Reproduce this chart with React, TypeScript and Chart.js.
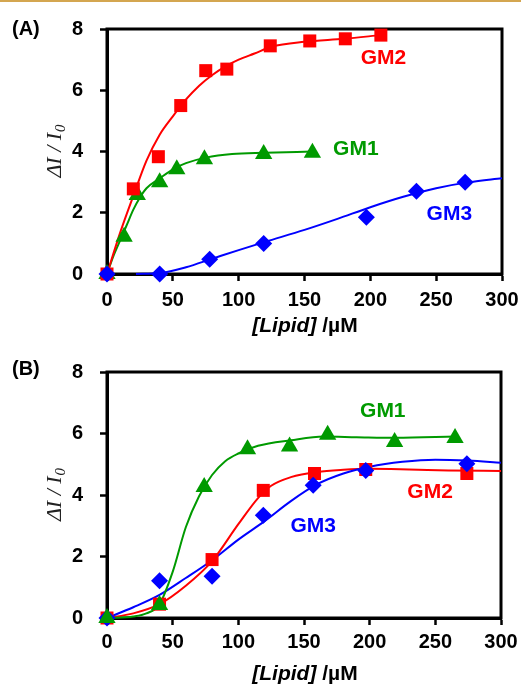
import React, { useEffect, useRef } from 'react';
import { Chart, registerables } from 'chart.js';

Chart.register(...registerables);

// ---------- data ----------
const xTickStep = 50;
const xMax = 300;
const yMax = 8;
const yTickStep = 2;

// Panel A – measured points
const aGM2X = [0, 20, 39, 56, 75, 91, 124, 154, 181, 208];
const aGM2Y = [0, 2.78, 3.83, 5.5, 6.64, 6.69, 7.45, 7.61, 7.68, 7.8];
const aGM1X = [0, 13, 23, 40, 53, 74, 119, 156];
const aGM1Y = [0, 1.22, 2.58, 3.0, 3.42, 3.75, 3.92, 3.96];
const aGM3X = [0, 40, 78, 119, 197, 235, 272];
const aGM3Y = [0, 0, 0.48, 1.0, 1.85, 2.7, 3.0];

// Panel A – fitted curves
const aFitGM2X = [0, 10, 20, 30, 40, 50, 60, 70, 80, 90, 100, 112, 125, 150, 180, 208];
const aFitGM2Y = [0, 1.35, 2.55, 3.7, 4.55, 5.15, 5.7, 6.15, 6.5, 6.78, 7.0, 7.2, 7.42, 7.58, 7.68, 7.8];
const aFitGM1X = [0, 5, 10, 15, 20, 25, 30, 40, 50, 60, 75, 95, 120, 156];
const aFitGM1Y = [0, 0.6, 1.1, 1.6, 2.1, 2.5, 2.8, 3.12, 3.42, 3.62, 3.8, 3.92, 3.96, 4.0];
const aFitGM3X = [22, 40, 60, 80, 100, 120, 150, 175, 200, 225, 250, 275, 300];
const aFitGM3Y = [0, 0.03, 0.22, 0.5, 0.78, 1.05, 1.44, 1.8, 2.18, 2.52, 2.8, 3.0, 3.13];

// Panel B – measured points
const bGM1X = [0, 40, 74, 107, 139, 168, 219, 265];
const bGM1Y = [0, 0.42, 4.26, 5.49, 5.58, 5.96, 5.72, 5.85];
const bGM2X = [0, 40, 80, 119, 158, 197, 274];
const bGM2Y = [0, 0.45, 1.9, 4.15, 4.7, 4.83, 4.7];
const bGM3X = [0, 40, 80, 119, 157, 197, 274];
const bGM3Y = [0, 1.21, 1.36, 3.34, 4.32, 4.8, 5.02];

// Panel B – fitted curves
const bFitGM1X = [0, 20, 30, 40, 50, 60, 70, 80, 90, 100, 115, 140, 165, 190, 220, 265];
const bFitGM1Y = [0, 0.05, 0.15, 0.45, 1.5, 2.95, 3.95, 4.65, 5.1, 5.35, 5.6, 5.78, 5.9, 5.88, 5.86, 5.9];
const bFitGM2X = [0, 20, 40, 60, 80, 100, 115, 125, 140, 160, 180, 200, 230, 260, 300];
const bFitGM2Y = [0, 0.15, 0.45, 1.05, 1.85, 3.05, 3.9, 4.3, 4.58, 4.75, 4.82, 4.85, 4.83, 4.8, 4.78];
const bFitGM3X = [0, 20, 40, 60, 80, 100, 120, 140, 160, 180, 200, 225, 250, 275, 300];
const bFitGM3Y = [0, 0.35, 0.75, 1.3, 1.88, 2.55, 3.15, 3.8, 4.35, 4.7, 4.92, 5.08, 5.15, 5.12, 5.05];

// Text
const seriesNames = ['GM1', 'GM2', 'GM3'];
const xTitleItalic = '[Lipid]';
const xTitleUnit = ' /\u00B5M';
const yTitleMain = '\u0394I / I';
const yTitleSub = '0';

// Label anchor positions in data units
const aLabelX = [189, 210, 260];
const aLabelY = [4.08, 7.05, 1.96];
const bLabelX = [210, 246, 157];
const bLabelY = [6.72, 4.08, 3.0];

const RED = '#FF0000';
const GREEN = '#009A00';
const BLUE = '#0000FF';
const COLORS = [GREEN, RED, BLUE];
const SANS = '"Liberation Sans", Arial, sans-serif';
const SERIF = '"Liberation Serif", "Times New Roman", serif';

const pts = (xs: number[], ys: number[]) => xs.map((x, i) => ({ x, y: ys[i] }));

const decorPlugin = {
  id: 'decor',
  beforeDatasetsDraw(chart: any) {
    const { ctx, chartArea: a } = chart;
    ctx.save();
    ctx.strokeStyle = '#000';
    ctx.lineWidth = 3;
    ctx.strokeRect(a.left, a.top, a.right - a.left, a.bottom - a.top);
    ctx.restore();
  },
  afterDraw(chart: any, _args: any, opts: any) {
    const { ctx, chartArea: a, scales } = chart;
    ctx.save();
    // panel letter
    ctx.fillStyle = '#000';
    ctx.font = `bold 20px ${SANS}`;
    ctx.textAlign = 'left';
    ctx.textBaseline = 'alphabetic';
    ctx.fillText(opts.panel, 12, opts.panelBaseline);

    // y title (rotated)
    ctx.save();
    const cy = (a.top + a.bottom) / 2;
    ctx.translate(opts.yTitleX, cy);
    ctx.rotate(-Math.PI / 2);
    ctx.fillStyle = '#222';
    const fMain = `italic 22px ${SERIF}`;
    const fSub = `italic 15px ${SERIF}`;
    ctx.font = fMain;
    const wm = ctx.measureText(yTitleMain).width;
    ctx.font = fSub;
    const ws = ctx.measureText(yTitleSub).width;
    const start = -(wm + ws) / 2;
    ctx.textBaseline = 'middle';
    ctx.font = fMain;
    ctx.fillText(yTitleMain, start, 0);
    ctx.font = fSub;
    ctx.fillText(yTitleSub, start + wm + 1, 6);
    ctx.restore();

    // x title
    ctx.fillStyle = '#000';
    const f1 = `italic bold 21px ${SANS}`;
    const f2 = `bold 21px ${SANS}`;
    ctx.font = f1;
    const w1 = ctx.measureText(xTitleItalic).width;
    ctx.font = f2;
    const w2 = ctx.measureText(xTitleUnit).width;
    const x0 = opts.xTitleX - (w1 + w2) / 2;
    ctx.textAlign = 'left';
    ctx.textBaseline = 'alphabetic';
    ctx.font = f1;
    ctx.fillText(xTitleItalic, x0, opts.xTitleBaseline);
    ctx.font = f2;
    ctx.fillText(xTitleUnit, x0 + w1, opts.xTitleBaseline);

    // series labels
    ctx.font = `bold 21px ${SANS}`;
    ctx.textAlign = 'center';
    ctx.textBaseline = 'middle';
    opts.labels.forEach((l: any) => {
      ctx.fillStyle = l.color;
      ctx.fillText(l.text, scales.x.getPixelForValue(l.x), scales.y.getPixelForValue(l.y));
    });
    ctx.restore();
  },
};

interface PanelCfg {
  height: number;
  top: number;
  padTop: number;
  padRight: number;
  xAxisH: number;
  xTickPad: number;
  panel: string;
  panelBaseline: number;
  xTitleBaseline: number;
  datasets: any[];
  labelX: number[];
  labelY: number[];
}

const markerStyles = [
  { pointStyle: 'triangle', pointRadius: 10 },
  { pointStyle: 'rect', pointRadius: 9.2 },
  { pointStyle: 'rectRot', pointRadius: 8.5 },
];

function markerDs(idx: number, xs: number[], ys: number[], order: number) {
  return {
    label: seriesNames[idx],
    data: pts(xs, ys),
    showLine: false,
    pointBackgroundColor: COLORS[idx],
    pointBorderWidth: 0,
    pointBorderColor: COLORS[idx],
    ...markerStyles[idx],
    order,
    clip: false,
  };
}

function fitDs(idx: number, xs: number[], ys: number[], order: number) {
  return {
    label: seriesNames[idx] + ' fit',
    data: pts(xs, ys),
    showLine: true,
    borderColor: COLORS[idx],
    borderWidth: 2,
    pointRadius: 0,
    tension: 0.4,
    cubicInterpolationMode: 'monotone',
    order,
    clip: false,
  };
}

const panelA: PanelCfg = {
  height: 340,
  top: 0,
  padTop: 29,
  padRight: 19,
  xAxisH: 66,
  xTickPad: 7,
  panel: '(A)',
  panelBaseline: 35,
  xTitleBaseline: 332,
  labelX: aLabelX,
  labelY: aLabelY,
  datasets: [
    markerDs(2, aGM3X, aGM3Y, 1),
    markerDs(1, aGM2X, aGM2Y, 2),
    markerDs(0, aGM1X, aGM1Y, 3),
    fitDs(2, aFitGM3X, aFitGM3Y, 10),
    fitDs(1, aFitGM2X, aFitGM2Y, 11),
    fitDs(0, aFitGM1X, aFitGM1Y, 12),
  ],
};

const panelB: PanelCfg = {
  height: 347,
  top: 340,
  padTop: 32,
  padRight: 20,
  xAxisH: 69,
  xTickPad: 5,
  panel: '(B)',
  panelBaseline: 35,
  xTitleBaseline: 340,
  labelX: bLabelX,
  labelY: bLabelY,
  datasets: [
    markerDs(0, bGM1X, bGM1Y, 1),
    markerDs(2, bGM3X, bGM3Y, 2),
    markerDs(1, bGM2X, bGM2Y, 3),
    fitDs(0, bFitGM1X, bFitGM1Y, 10),
    fitDs(2, bFitGM3X, bFitGM3Y, 11),
    fitDs(1, bFitGM2X, bFitGM2Y, 12),
  ],
};

function Panel({ cfg }: { cfg: PanelCfg }) {
  const ref = useRef<HTMLCanvasElement>(null);
  useEffect(() => {
    if (!ref.current) return;
    const tickFont = { family: SANS, weight: 'bold' as const, size: 20 };
    const chart = new Chart(ref.current, {
      type: 'scatter',
      data: { datasets: cfg.datasets },
      plugins: [decorPlugin],
      options: {
        responsive: false,
        animation: false,
        events: [],
        layout: { padding: { top: cfg.padTop, right: cfg.padRight, left: 0, bottom: 0 } },
        plugins: {
          legend: { display: false },
          tooltip: { enabled: false },
          decor: {
            panel: cfg.panel,
            panelBaseline: cfg.panelBaseline,
            yTitleX: 55,
            xTitleX: 305,
            xTitleBaseline: cfg.xTitleBaseline,
            labels: seriesNames.map((t, i) => ({
              text: t,
              color: COLORS[i],
              x: cfg.labelX[i],
              y: cfg.labelY[i],
            })),
          },
        } as any,
        scales: {
          x: {
            type: 'linear',
            min: 0,
            max: xMax,
            ticks: { stepSize: xTickStep, color: '#000', font: tickFont, padding: cfg.xTickPad, maxRotation: 0 },
            grid: { drawOnChartArea: false, drawTicks: true, tickLength: 7, tickWidth: 2.5, tickColor: '#000' },
            border: { display: true, color: '#000', width: 3 },
            afterFit: (s: any) => {
              s.height = cfg.xAxisH;
              s.paddingLeft = 0;
              s.paddingRight = 0;
            },
          },
          y: {
            type: 'linear',
            min: 0,
            max: yMax,
            ticks: { stepSize: yTickStep, color: '#000', font: tickFont, padding: 17 },
            grid: { drawOnChartArea: false, drawTicks: true, tickLength: 7, tickWidth: 2.5, tickColor: '#000' },
            border: { display: true, color: '#000', width: 3 },
            afterFit: (s: any) => {
              s.width = 107;
              s.paddingTop = 0;
              s.paddingBottom = 0;
            },
          },
        },
      } as any,
    });
    return () => chart.destroy();
  }, [cfg]);
  return (
    <canvas
      ref={ref}
      width={521}
      height={cfg.height}
      style={{ position: 'absolute', left: 0, top: cfg.top, width: 521, height: cfg.height, display: 'block' }}
    />
  );
}

export default function App() {
  return (
    <div style={{ position: 'absolute', left: 0, top: 0, width: 521, height: 687, background: '#fff', overflow: 'hidden' }}>
      <Panel cfg={panelA} />
      <Panel cfg={panelB} />
      <div style={{ position: 'absolute', left: 0, top: 0, width: 521, height: 2, background: '#D4A650' }} />
    </div>
  );
}
